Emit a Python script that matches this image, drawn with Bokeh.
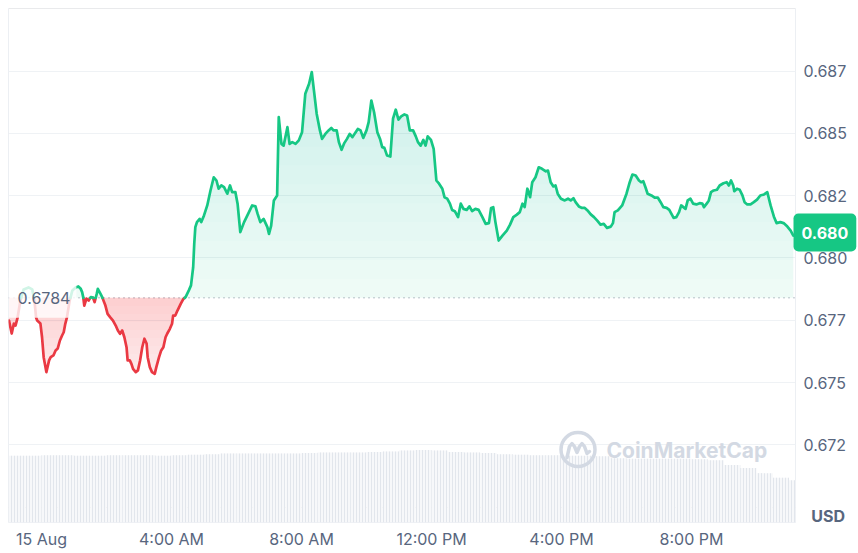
import math
import numpy as np
from bokeh.plotting import figure
from bokeh.models import (Range1d, FixedTicker, CustomJSTickFormatter, Label, Span,
                          LinearAxis, Grid)
from bokeh.embed import file_html
from bokeh.resources import INLINE

# ---------------- data ----------------
# minutes from 00:00 on 15 Aug
times = [
    -60, -55, -51, -48, -44, -39, -33, -24, -17, -13,
    -10, -8, -2, 1, 4, 9, 14, 17, 22, 26,
    30, 34, 38, 41, 44, 47, 52, 57, 63, 68,
    72, 75, 77, 79, 83, 87, 91, 95, 98, 102,
    104, 109, 112, 118, 122, 127, 132, 137, 141, 145,
    149, 153, 157, 159, 163, 166, 169, 174, 178, 182,
    186, 190, 194, 196, 200, 204, 209, 212, 217, 221,
    225, 229, 232, 237, 241, 243, 247, 251, 257, 262,
    266, 272, 276, 280, 282, 284, 287, 292, 295, 300,
    306, 312, 318, 323, 327, 332, 337, 343, 348, 352,
    358, 362, 367, 374, 383, 389, 395, 399, 404, 410,
    417, 420, 424, 429, 435, 438, 443, 447, 454, 458,
    463, 469, 475, 481, 487, 494, 499, 503, 508, 514,
    518, 524, 530, 535, 539, 545, 549, 554, 559, 564,
    569, 574, 580, 584, 589, 594, 600, 604, 609, 614,
    620, 625, 629, 633, 638, 644, 649, 654, 659, 664,
    670, 675, 680, 686, 691, 695, 700, 705, 709, 713,
    719, 724, 729, 734, 740, 744, 749, 754, 758, 763,
    769, 774, 779, 785, 790, 795, 801, 807, 814, 820,
    826, 830, 834, 838, 844, 851, 859, 865, 871, 877,
    883, 888, 892, 897, 902, 906, 912, 918, 924, 931,
    935, 940, 945, 949, 953, 959, 966, 972, 977, 982,
    986, 992, 998, 1003, 1008, 1014, 1020, 1026, 1032, 1038,
    1044, 1051, 1055, 1058, 1064, 1072, 1080, 1086, 1091, 1097,
    1103, 1107, 1111, 1115, 1119, 1126, 1132, 1138, 1143, 1148,
    1154, 1159, 1163, 1167, 1172, 1177, 1181, 1185, 1189, 1193,
    1198, 1203, 1209, 1215, 1220, 1223, 1228, 1232, 1236, 1241,
    1247, 1252, 1259, 1265, 1269, 1273, 1277, 1279, 1284, 1289,
    1294, 1298, 1303, 1309, 1315, 1321, 1327, 1334, 1340, 1346,
    1352, 1357, 1364, 1370, 1377, 1383, 1388,
]
prices = [
    0.67749, 0.67697, 0.67737, 0.67729, 0.67762, 0.67829, 0.67874, 0.67882, 0.67874, 0.67829,
    0.67761, 0.67749, 0.67737, 0.67682, 0.67602, 0.67542, 0.67589, 0.67602, 0.67609, 0.67629,
    0.67637, 0.67669, 0.67689, 0.67702, 0.67737, 0.67762, 0.67829, 0.67870, 0.67882, 0.67886,
    0.67878, 0.67863, 0.67843, 0.67809, 0.67837, 0.67829, 0.67843, 0.67841, 0.67823, 0.67856,
    0.67876, 0.67856, 0.67843, 0.67809, 0.67776, 0.67762, 0.67749, 0.67729, 0.67709, 0.67696,
    0.67709, 0.67682, 0.67642, 0.67589, 0.67589, 0.67575, 0.67555, 0.67542, 0.67549, 0.67589,
    0.67642, 0.67676, 0.67657, 0.67602, 0.67562, 0.67542, 0.67535, 0.67562, 0.67602, 0.67629,
    0.67642, 0.67682, 0.67696, 0.67716, 0.67736, 0.67769, 0.67769, 0.67789, 0.67816, 0.67836,
    0.67843, 0.67870, 0.67890, 0.67963, 0.68057, 0.68124, 0.68144, 0.68157, 0.68144, 0.68171,
    0.68211, 0.68271, 0.68324, 0.68311, 0.68278, 0.68291, 0.68284, 0.68258, 0.68291, 0.68264,
    0.68264, 0.68218, 0.68104, 0.68144, 0.68184, 0.68211, 0.68207, 0.68177, 0.68144, 0.68157,
    0.68124, 0.68097, 0.68130, 0.68231, 0.68251, 0.68565, 0.68458, 0.68451, 0.68525, 0.68458,
    0.68465, 0.68458, 0.68472, 0.68505, 0.68659, 0.68699, 0.68746, 0.68672, 0.68579, 0.68512,
    0.68478, 0.68498, 0.68512, 0.68522, 0.68512, 0.68512, 0.68465, 0.68434, 0.68461, 0.68478,
    0.68498, 0.68485, 0.68505, 0.68518, 0.68512, 0.68482, 0.68512, 0.68545, 0.68632, 0.68585,
    0.68505, 0.68478, 0.68445, 0.68442, 0.68411, 0.68407, 0.68559, 0.68595, 0.68555, 0.68568,
    0.68576, 0.68572, 0.68512, 0.68512, 0.68488, 0.68465, 0.68451, 0.68474, 0.68451, 0.68488,
    0.68474, 0.68438, 0.68311, 0.68298, 0.68278, 0.68244, 0.68238, 0.68218, 0.68193, 0.68188,
    0.68164, 0.68218, 0.68197, 0.68193, 0.68207, 0.68188, 0.68197, 0.68193, 0.68164, 0.68137,
    0.68140, 0.68201, 0.68204, 0.68144, 0.68070, 0.68090, 0.68110, 0.68134, 0.68164, 0.68173,
    0.68184, 0.68218, 0.68204, 0.68278, 0.68244, 0.68304, 0.68324, 0.68364, 0.68358, 0.68348,
    0.68351, 0.68304, 0.68287, 0.68291, 0.68258, 0.68238, 0.68231, 0.68238, 0.68231, 0.68240,
    0.68224, 0.68207, 0.68201, 0.68201, 0.68191, 0.68175, 0.68164, 0.68150, 0.68134, 0.68137,
    0.68121, 0.68126, 0.68140, 0.68184, 0.68191, 0.68211, 0.68258, 0.68304, 0.68335, 0.68331,
    0.68311, 0.68304, 0.68308, 0.68284, 0.68258, 0.68251, 0.68242, 0.68242, 0.68224, 0.68204,
    0.68201, 0.68193, 0.68177, 0.68161, 0.68164, 0.68184, 0.68211, 0.68204, 0.68197, 0.68231,
    0.68238, 0.68218, 0.68215, 0.68220, 0.68218, 0.68204, 0.68218, 0.68231, 0.68264, 0.68271,
    0.68274, 0.68291, 0.68300, 0.68304, 0.68291, 0.68311, 0.68291, 0.68268, 0.68278, 0.68274,
    0.68251, 0.68224, 0.68215, 0.68215, 0.68224, 0.68234, 0.68251, 0.68255, 0.68264, 0.68211,
    0.68167, 0.68140, 0.68144, 0.68140, 0.68126, 0.68110, 0.68090,
]
assert len(times) == len(prices)

open_price = 0.6784
last_label = "0.680"
currency = "USD"

# volume, 30-minute slots (start minute) - arbitrary units
vol_start = list(range(-60, 1381, 30))
volumes = [130, 130, 131, 131, 130, 130, 131, 131, 131, 130, 131, 132, 133,
           134, 134, 134, 134, 134, 135,
           136, 136, 136, 137, 138,
           140, 141, 140,
           137, 136, 135,
           133, 132, 131,
           131, 130, 130, 129,
           125, 124, 124, 124, 124, 123,
           121, 112, 106, 96, 87, 82]
assert len(vol_start) == len(volumes)

x_tick_hours = [0, 4, 8, 12, 16, 20]
x_tick_labels = ["15 Aug", "4:00 AM", "8:00 AM", "12:00 PM", "4:00 PM", "8:00 PM"]
y_ticks = [0.6725, 0.675, 0.6775, 0.68, 0.6825, 0.685, 0.6875]

# ---------------- styling ----------------
GREEN = "#16c784"
RED = "#ea3943"
GREY = "#58667e"
GRID = "#eff2f5"
FONT = "Inter"

X0, X1 = -1.0154, 23.2
Y0, Y1 = 0.669386, 0.690012
FL, FT, FW, FH = 8, 8, 787, 514  # frame position / size in px
BADGE_W = 62                      # width of the last-price badge in px


def sx(px):  # page px -> data x (decoration only)
    return X0 + (px - FL) / FW * (X1 - X0)


def sy(py):  # page px -> data y (decoration only)
    return Y1 - (py - FT) / FH * (Y1 - Y0)


p = figure(width=858, height=553, x_range=Range1d(X0, X1), y_range=Range1d(Y0, Y1),
           y_axis_location=None, output_backend="svg", toolbar_location=None,
           min_border_left=FL, min_border_top=FT, min_border_right=63, min_border_bottom=31,
           background_fill_color="white", border_fill_color="white")
p.outline_line_color = "#eceff3"
p.extra_y_ranges = {"vol": Range1d(0, 1000)}
p.xgrid.visible = False

# last price badge lives in the right side panel (so it is not clipped to the frame)
badge = Label(x=X1, y=prices[-1], x_offset=-2, y_offset=3, text=last_label,
              text_font=FONT, text_font_size="16px", text_font_style="bold",
              text_color="white", text_baseline="middle", text_align="left",
              background_fill_color=GREEN, border_radius=5,
              padding=dict(left=8, right=8, top=13, bottom=13))
p.add_layout(badge, "right")

# price axis, outside the badge slot, pulled back next to the frame
yaxis = LinearAxis(ticker=FixedTicker(ticks=y_ticks),
                   formatter=CustomJSTickFormatter(
                       code="return (Math.floor(tick*1000 + 1e-6)/1000).toFixed(3);"))
yaxis.major_label_standoff = 7 - BADGE_W
has_align = "axis_label_align" in yaxis.properties()
if has_align:
    yaxis.axis_label = currency + "\n "
    yaxis.axis_label_orientation = "horizontal"
    yaxis.axis_label_align = "start"
    yaxis.axis_label_standoff = -39
    yaxis.axis_label_text_font = FONT
    yaxis.axis_label_text_font_size = "16px"
    yaxis.axis_label_text_font_style = "bold"
    yaxis.axis_label_text_color = GREY
    yaxis.axis_label_text_line_height = 0.7
p.add_layout(yaxis, "right")
p.add_layout(Grid(dimension=1, ticker=yaxis.ticker, grid_line_color=GRID,
                  grid_line_width=1))

p.xaxis.ticker = FixedTicker(ticks=x_tick_hours)
p.xaxis.major_label_overrides = {h: s for h, s in zip(x_tick_hours, x_tick_labels)}
for ax in (p.xaxis[0], yaxis):
    ax.axis_line_color = None
    ax.major_tick_line_color = None
    ax.minor_tick_line_color = None
    ax.major_tick_out = 0
    ax.major_tick_in = 0
    ax.minor_tick_out = 0
    ax.major_label_text_color = GREY
    ax.major_label_text_font = FONT
    ax.major_label_text_font_size = "16px"
p.xaxis.major_label_standoff = 6

if not has_align:
    p.add_layout(Label(x=X1, y=Y0, x_offset=17, y_offset=7, text=currency, text_font=FONT,
                       text_font_size="16px", text_font_style="bold", text_color=GREY,
                       text_baseline="middle", text_align="left"), "right")

# volume
vx = [(s + 15) / 60 for s in vol_start]
p.vbar(x=vx, top=volumes, width=0.5, y_range_name="vol", fill_color="#f7f8fa",
       line_color=None, hatch_pattern="|", hatch_scale=3, hatch_weight=1,
       hatch_color="#e2e6ec")

# baseline (open price)
p.add_layout(Span(location=open_price, dimension="width", line_color="#a7aebb",
                  line_width=1.5, line_dash="1 4", level="underlay"))

# split series at crossings of the open price
t = np.array(times) / 60.0
pr = np.array(prices)
xs, ys = [t[0]], [pr[0]]
for i in range(1, len(t)):
    a, b = pr[i - 1] - open_price, pr[i] - open_price
    if a * b < 0:
        f = a / (a - b)
        xs.append(t[i - 1] + f * (t[i] - t[i - 1]))
        ys.append(open_price)
    xs.append(t[i])
    ys.append(pr[i])
xs = np.array(xs)
ys = np.array(ys)

above = np.maximum(ys, open_price)
below = np.minimum(ys, open_price)

p.varea(x=xs, y1=open_price, y2=above, fill_color=GREEN, fill_alpha=0.075)
for L in np.linspace(open_price, 0.6875, 13)[1:]:
    p.varea(x=xs, y1=L, y2=np.maximum(ys, L), fill_color=GREEN, fill_alpha=0.011)
p.varea(x=xs, y1=below, y2=open_price, fill_color=RED, fill_alpha=0.10)
for L in np.linspace(0.6752, open_price, 11)[1:]:
    p.varea(x=xs, y1=np.maximum(below, L), y2=open_price, fill_color=RED, fill_alpha=0.016)

green_y = np.where(ys >= open_price, ys, np.nan)
red_y = np.where(ys <= open_price, ys, np.nan)
p.line(xs, red_y, line_color=RED, line_width=2.7, line_join="round", line_cap="round")
p.line(xs, green_y, line_color=GREEN, line_width=2.7, line_join="round", line_cap="round")

# watermark (decoration)
WM = "#d3d9e3"
p.scatter([sx(577.5)], [sy(449)], marker="circle", size=34, fill_color=None,
          line_color=WM, line_width=3.5)
mx = [566.5, 569, 571.5, 574, 576.5, 579, 581.5, 584, 586.5, 589]
my = [457, 446, 443, 446, 452, 446, 443, 446, 453, 451]
p.line([sx(v) for v in mx], [sy(v) for v in my], line_color=WM, line_width=3.5,
       line_join="round", line_cap="round")
p.add_layout(Label(x=sx(606), y=sy(450), text="CoinMarketCap", text_font=FONT,
                   text_font_size="21px", text_font_style="bold", text_color=WM,
                   text_baseline="middle", text_align="left"))

# open price label
p.add_layout(Label(x=X0, y=open_price, x_offset=0, text=f"{open_price:.4f}",
                   text_font=FONT, text_font_size="16px", text_color=GREY,
                   text_baseline="middle", text_align="left",
                   background_fill_color="white", background_fill_alpha=0.8,
                   padding=dict(left=9, right=6, top=14, bottom=14)))

open("out.html", "w").write(file_html(p, INLINE))
